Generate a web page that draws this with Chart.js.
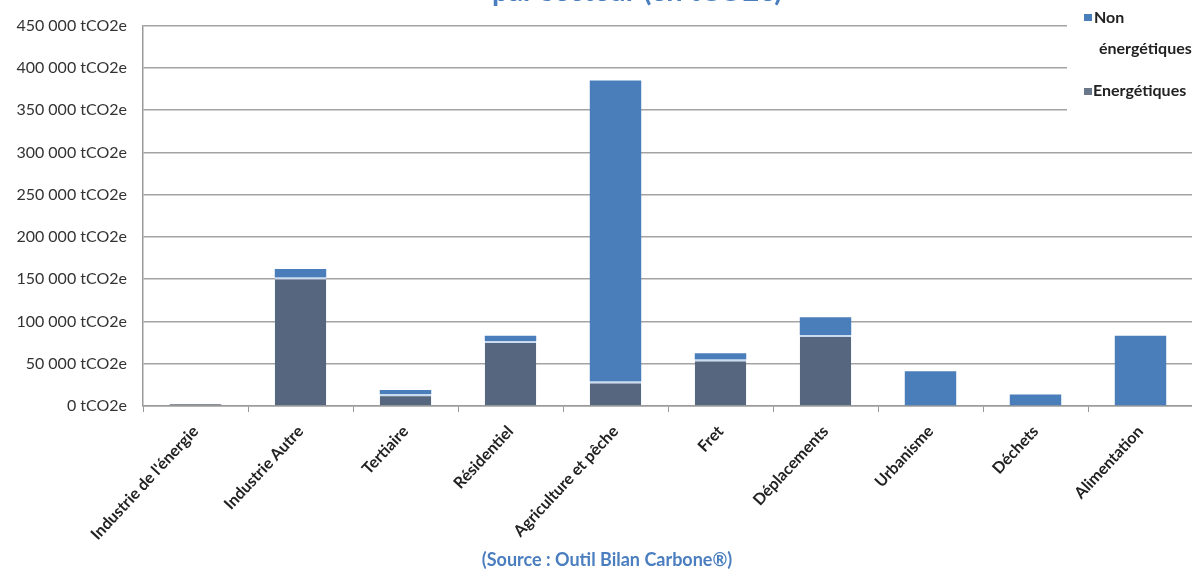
<!DOCTYPE html>
<html lang="fr">
<head>
<meta charset="utf-8">
<title>Emissions par secteur</title>
<script src="https://cdn.jsdelivr.net/npm/chart.js@4/dist/chart.umd.min.js"></script>
<style>
  html, body { margin: 0; padding: 0; background: #fff; overflow: hidden; }
  #wrap { width: 1200px; height: 570px; }
</style>
</head>
<body>
<div id="wrap"><canvas id="emisChart" width="1200" height="570"></canvas></div>
<script>
const sectors = ['Industrie de l\'énergie', 'Industrie Autre', 'Tertiaire', 'Résidentiel',
    'Agriculture et pêche', 'Fret', 'Déplacements', 'Urbanisme', 'Déchets', 'Alimentation'];
const energetiques = [2500, 152000, 14000, 77000, 29000, 55000, 84000, 0, 0, 0];
const nonEnergetiques = [0, 10000, 5000, 6000, 356000, 7500, 21000, 41000, 13500, 83000];
const yTickValues = [0, 50000, 100000, 150000, 200000, 250000, 300000, 350000, 400000, 450000];

const FONT = 'Lato, "Open Sans", sans-serif';
const BLUE = '#4a7ebb';
const SLATE = '#55667e';

// "450 000 tCO2e"
const fmtTonnes = (v) => String(v).replace(/\B(?=(\d{3})+(?!\d))/g, ' ') + ' tCO2e';

// legend box, title and source line drawn straight on the canvas
const overlayText = {
    id: 'overlayText',
    afterDraw(chart) {
        const ctx = chart.ctx;
        ctx.save();

        // legend sits over the gridlines at top right
        ctx.fillStyle = '#fff';
        ctx.fillRect(1067, 0, 140, 116);

        ctx.fillStyle = chart.data.datasets[1].backgroundColor;
        ctx.fillRect(1084, 14, 8, 7);
        ctx.fillStyle = '#6b778a';
        ctx.fillRect(1084, 88, 8, 7);

        ctx.fillStyle = '#222';
        ctx.font = 'bold 16px ' + FONT;
        ctx.textBaseline = 'alphabetic';
        ctx.textAlign = 'left';
        ctx.fillText('Non', 1094, 23);
        ctx.fillText('énergétiques', 1099, 54);
        ctx.fillText('Energétiques', 1093, 96);

        // title, mostly above the top edge
        ctx.fillStyle = '#4a7ebf';
        ctx.font = 'bold 29px ' + FONT;
        ctx.textAlign = 'center';
        ctx.fillText('par secteur (en tCO2e)', 637, 1);

        ctx.font = 'bold 18px ' + FONT;
        ctx.fillText('(Source : Outil Bilan Carbone®)', 607, 566);
        ctx.restore();
    }
};

const ctx = document.getElementById('emisChart').getContext('2d');
new Chart(ctx, {
    type: 'bar',
    data: {
        labels: sectors,
        datasets: [
            {
                label: 'Energétiques',
                data: energetiques,
                backgroundColor: (c) => c.dataIndex === 0 ? '#8a8f98' : SLATE,
                borderColor: '#c9dbf0',
                borderWidth: (c) => c.raw > 5000 ? { top: 2, left: 0, right: 0, bottom: 0 } : 0,
                borderSkipped: false,
                barPercentage: 0.49,
                categoryPercentage: 1
            },
            {
                label: 'Non énergétiques',
                data: nonEnergetiques,
                backgroundColor: BLUE,
                borderWidth: 0,
                barPercentage: 0.49,
                categoryPercentage: 1
            }
        ]
    },
    options: {
        responsive: false,
        animation: false,
        layout: { padding: { top: 22, right: 7, bottom: 0, left: 0 } },
        plugins: {
            legend: { display: false },
            tooltip: { enabled: false }
        },
        scales: {
            x: {
                stacked: true,
                afterFit: (axis) => { axis.height = 164; },
                grid: {
                    drawOnChartArea: false,
                    drawTicks: true,
                    tickLength: 6,
                    color: '#9a9a9a'
                },
                border: { color: '#9a9a9a', width: 1.5 },
                ticks: {
                    minRotation: 47,
                    maxRotation: 47,
                    autoSkip: false,
                    padding: 10,
                    color: '#222',
                    font: { family: FONT, size: 16, weight: 'bold' }
                }
            },
            y: {
                stacked: true,
                min: 0,
                max: 450000,
                afterFit: (axis) => { axis.width = 143; },
                afterBuildTicks: (axis) => { axis.ticks = yTickValues.map(v => ({ value: v })); },
                grid: { color: '#a3a3a3', lineWidth: 1.5, drawTicks: false },
                border: { color: '#9a9a9a', width: 1.5 },
                ticks: {
                    padding: 16,
                    color: '#333',
                    font: { family: FONT, size: 16 },
                    callback: (v) => fmtTonnes(v)
                }
            }
        }
    },
    plugins: [overlayText]
});
</script>
</body>
</html>
